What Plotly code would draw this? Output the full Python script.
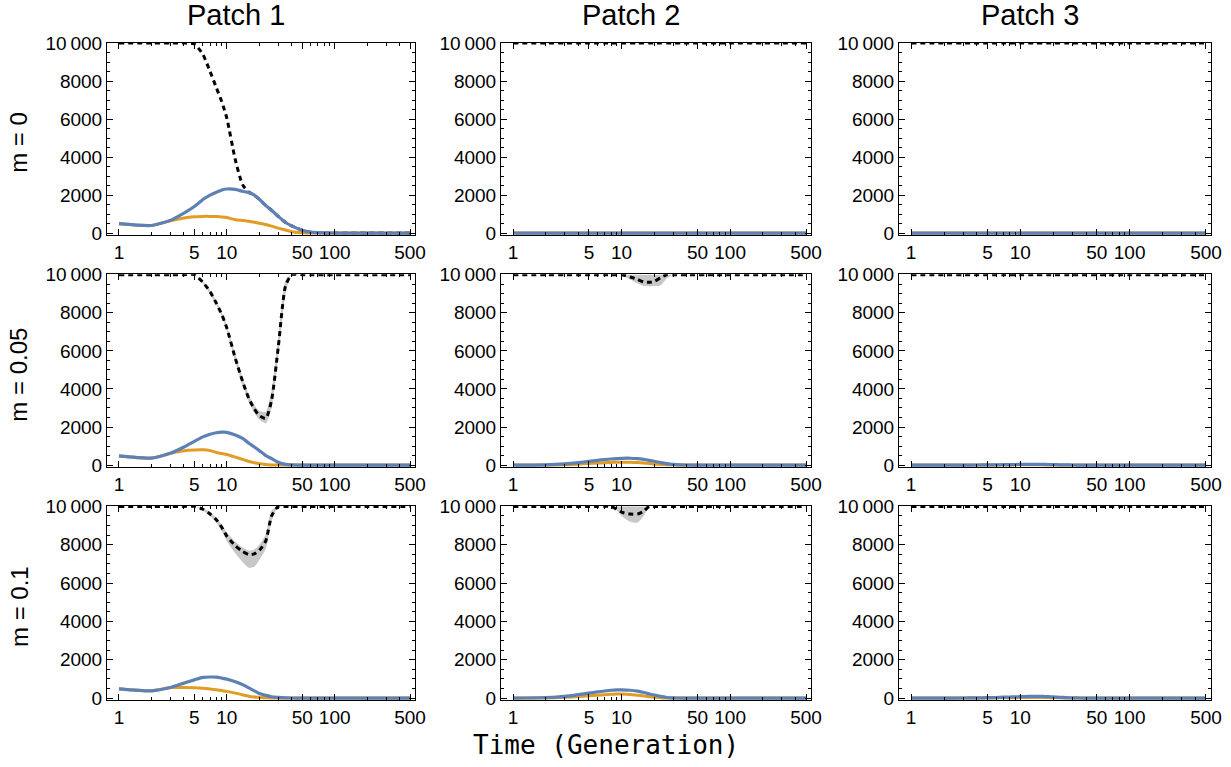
import plotly.graph_objects as go
from plotly.subplots import make_subplots

# generations
T = [1, 2, 3, 4, 5, 6, 7, 8, 9, 10, 12, 14, 16, 18, 20, 23, 26, 30, 35, 40, 50, 60, 80, 100, 200, 300, 500]

# ---- patch 1 ----
blue_m0_p1 = [495, 400, 670, 1050, 1400, 1770, 2000, 2150, 2270, 2320, 2300, 2200, 2130, 2000, 1780, 1450, 1200, 880, 560, 380, 150, 50, 10, 0, 0, 0, 0]
orange_m0_p1 = [495, 400, 650, 800, 860, 880, 880, 870, 850, 820, 700, 660, 620, 570, 520, 450, 370, 260, 160, 70, 15, 0, 0, 0, 0, 0, 0]
black_m0_p1 = [10000, 10000, 10000, 10000, 9950, 9400, 8500, 7650, 6900, 6050, 3850, 2550, 2150, 2000, 1780, 1450, 1200, 880, 560, 380, 150, 50, 10, 0, 0, 0, 0]

blue_m005_p1 = [480, 370, 620, 950, 1250, 1480, 1620, 1700, 1730, 1720, 1580, 1400, 1150, 950, 760, 500, 340, 150, 40, 10, 0, 0, 0, 0, 0, 0, 0]
orange_m005_p1 = [480, 370, 620, 750, 790, 800, 760, 660, 610, 560, 420, 300, 190, 120, 70, 30, 10, 0, 0, 0, 0, 0, 0, 0, 0, 0, 0]
black_m005_p1 = [10000, 10000, 10000, 10000, 10000, 9600, 9100, 8500, 7900, 7200, 5600, 4400, 3500, 2950, 2600, 2450, 3400, 6200, 9400, 10000, 10000, 10000, 10000, 10000, 10000, 10000, 10000]
band_lo_m005_p1 = [10000, 10000, 10000, 10000, 10000, 9550, 9000, 8400, 7800, 7050, 5400, 4200, 3300, 2750, 2400, 2200, 3000, 5700, 9000, 10000, 10000, 10000, 10000, 10000, 10000, 10000, 10000]
band_hi_m005_p1 = [10000, 10000, 10000, 10000, 10000, 9650, 9200, 8600, 8000, 7350, 5800, 4600, 3700, 3150, 2850, 2800, 3900, 6700, 9700, 10000, 10000, 10000, 10000, 10000, 10000, 10000, 10000]

blue_m01_p1 = [485, 380, 550, 780, 950, 1080, 1100, 1090, 1040, 990, 850, 700, 530, 380, 240, 140, 70, 40, 15, 5, 0, 0, 0, 0, 0, 0, 0]
orange_m01_p1 = [485, 380, 550, 550, 540, 510, 470, 430, 390, 350, 260, 170, 100, 60, 40, 15, 5, 0, 0, 0, 0, 0, 0, 0, 0, 0, 0]
black_m01_p1 = [10000, 10000, 10000, 10000, 10000, 9850, 9600, 9300, 8900, 8450, 7950, 7650, 7480, 7520, 7700, 8200, 9500, 10000, 10000, 10000, 10000, 10000, 10000, 10000, 10000, 10000, 10000]
band_lo_m01_p1 = [10000, 10000, 10000, 10000, 10000, 9800, 9500, 9150, 8700, 8200, 7550, 7100, 6800, 6850, 7200, 7800, 9200, 10000, 10000, 10000, 10000, 10000, 10000, 10000, 10000, 10000, 10000]
band_hi_m01_p1 = [10000, 10000, 10000, 10000, 10000, 9900, 9700, 9400, 9050, 8650, 8150, 7850, 7700, 7750, 8000, 8550, 9800, 10000, 10000, 10000, 10000, 10000, 10000, 10000, 10000, 10000, 10000]

# ---- patch 2 ----
zeros = [0] * len(T)
full = [10000] * len(T)

blue_m005_p2 = [0, 10, 60, 130, 200, 250, 290, 320, 340, 355, 360, 340, 300, 250, 200, 130, 80, 40, 15, 5, 0, 0, 0, 0, 0, 0, 0]
orange_m005_p2 = [0, 5, 20, 50, 80, 105, 125, 140, 148, 150, 145, 130, 105, 85, 60, 35, 20, 5, 0, 0, 0, 0, 0, 0, 0, 0, 0]
black_m005_p2 = [10000, 10000, 10000, 10000, 10000, 10000, 10000, 10000, 10000, 10000, 9880, 9750, 9620, 9600, 9650, 9850, 10000, 10000, 10000, 10000, 10000, 10000, 10000, 10000, 10000, 10000, 10000]
band_lo_m005_p2 = [10000, 10000, 10000, 10000, 10000, 10000, 10000, 10000, 10000, 10000, 9750, 9550, 9400, 9380, 9400, 9450, 9800, 10000, 10000, 10000, 10000, 10000, 10000, 10000, 10000, 10000, 10000]

blue_m01_p2 = [0, 30, 90, 180, 260, 320, 370, 410, 430, 430, 410, 360, 290, 220, 160, 90, 30, 10, 0, 0, 0, 0, 0, 0, 0, 0, 0]
orange_m01_p2 = [0, 10, 40, 80, 120, 150, 180, 200, 210, 210, 190, 150, 110, 75, 50, 20, 5, 0, 0, 0, 0, 0, 0, 0, 0, 0, 0]
black_m01_p2 = [10000, 10000, 10000, 10000, 10000, 10000, 10000, 10000, 9850, 9700, 9600, 9600, 9750, 10000, 10000, 10000, 10000, 10000, 10000, 10000, 10000, 10000, 10000, 10000, 10000, 10000, 10000]
band_lo_m01_p2 = [10000, 10000, 10000, 10000, 10000, 10000, 10000, 10000, 9800, 9500, 9200, 9150, 9500, 10000, 10000, 10000, 10000, 10000, 10000, 10000, 10000, 10000, 10000, 10000, 10000, 10000, 10000]

# ---- patch 3 ----
blue_m005_p3 = [0, 0, 0, 5, 10, 15, 20, 25, 30, 35, 40, 40, 35, 30, 25, 15, 10, 5, 0, 0, 0, 0, 0, 0, 0, 0, 0]
orange_m005_p3 = [0, 0, 0, 2, 4, 6, 8, 10, 12, 13, 14, 13, 12, 10, 8, 5, 3, 1, 0, 0, 0, 0, 0, 0, 0, 0, 0]
blue_m01_p3 = [0, 0, 5, 10, 20, 30, 45, 55, 65, 75, 85, 90, 85, 75, 60, 40, 25, 10, 5, 0, 0, 0, 0, 0, 0, 0, 0]
orange_m01_p3 = [0, 0, 2, 4, 7, 10, 15, 18, 22, 25, 28, 30, 28, 25, 20, 13, 8, 3, 1, 0, 0, 0, 0, 0, 0, 0, 0]

panels = [
    # (row, col, blue, orange, black, band_lo, band_hi)
    (1, 1, blue_m0_p1, orange_m0_p1, black_m0_p1, None, None),
    (1, 2, zeros, zeros, full, None, None),
    (1, 3, zeros, zeros, full, None, None),
    (2, 1, blue_m005_p1, orange_m005_p1, black_m005_p1, band_lo_m005_p1, band_hi_m005_p1),
    (2, 2, blue_m005_p2, orange_m005_p2, black_m005_p2, band_lo_m005_p2, full),
    (2, 3, blue_m005_p3, orange_m005_p3, full, None, None),
    (3, 1, blue_m01_p1, orange_m01_p1, black_m01_p1, band_lo_m01_p1, band_hi_m01_p1),
    (3, 2, blue_m01_p2, orange_m01_p2, black_m01_p2, band_lo_m01_p2, full),
    (3, 3, blue_m01_p3, orange_m01_p3, full, None, None),
]

BLUE = "#5E81B5"
ORANGE = "#E19C24"
GRAY = "rgba(190,190,190,0.85)"

fig = make_subplots(rows=3, cols=3)

for r, c, b, o, k, lo, hi in panels:
    if lo is not None:
        fig.add_trace(go.Scatter(x=T, y=hi, mode="lines", line=dict(width=0, shape="spline", smoothing=0.6),
                                 hoverinfo="skip", showlegend=False), row=r, col=c)
        fig.add_trace(go.Scatter(x=T, y=lo, mode="lines", line=dict(width=0, shape="spline", smoothing=0.6),
                                 fill="tonexty", fillcolor=GRAY, hoverinfo="skip", showlegend=False), row=r, col=c)
    fig.add_trace(go.Scatter(x=T, y=k, mode="lines",
                             line=dict(color="black", width=3, dash="5px,4px", shape="spline", smoothing=0.6),
                             showlegend=False), row=r, col=c)
    fig.add_trace(go.Scatter(x=T, y=o, mode="lines",
                             line=dict(color=ORANGE, width=3, shape="spline", smoothing=0.6),
                             showlegend=False), row=r, col=c)
    fig.add_trace(go.Scatter(x=T, y=b, mode="lines",
                             line=dict(color=BLUE, width=3.2, shape="spline", smoothing=0.6),
                             showlegend=False), row=r, col=c)

W, H = 1231, 767


def px_x(p):
    return p / W


def px_y(p):
    return 1 - p / H


col_px = [(107, 415), (501, 811), (899, 1211)]
row_px = [(42.7, 235), (274.3, 467), (506, 700)]
col_dom = [(px_x(a), px_x(b)) for a, b in col_px]
row_dom = [(px_y(b), px_y(a)) for a, b in row_px]

font = "Liberation Sans, Arial, sans-serif"
for r in range(1, 4):
    for c in range(1, 4):
        fig.update_xaxes(
            type="log", range=[-0.111, 2.745], domain=col_dom[c - 1], automargin=False,
            tickvals=[1, 5, 10, 50, 100, 500], ticktext=["1", "5", "10", "50", "100", "500"],
            ticks="inside", ticklen=6, tickwidth=1, tickcolor="black",
            minor=dict(ticks="inside", ticklen=3, tickcolor="black",
                       tickvals=[2, 3, 4, 6, 7, 8, 9, 20, 30, 40, 60, 70, 80, 90, 200, 300, 400]),
            showline=True, linecolor="black", linewidth=1, mirror="ticks",
            showgrid=False, zeroline=False, tickfont=dict(family=font, size=19, color="black"),
            row=r, col=c)
        fig.update_yaxes(
            range=[-100, 10020], domain=row_dom[r - 1], automargin=False,
            tickvals=[0, 2000, 4000, 6000, 8000, 10000],
            ticktext=["0", "2000", "4000", "6000", "8000", "10\u2009000"],
            ticks="inside", ticklen=6, tickwidth=1, tickcolor="black",
            minor=dict(ticks="inside", ticklen=3, tickcolor="black", dtick=500),
            showline=True, linecolor="black", linewidth=1, mirror="ticks",
            showgrid=False, zeroline=False, tickfont=dict(family=font, size=19, color="black"),
            row=r, col=c)

annotations = []
for i, name in enumerate(["Patch 1", "Patch 2", "Patch 3"]):
    cx = (col_px[i][0] + col_px[i][1]) / 2 - 25
    annotations.append(dict(text=name, x=px_x(cx), y=px_y(15),
                            xref="paper", yref="paper", showarrow=False,
                            xanchor="center", yanchor="middle",
                            font=dict(family=font, size=29, color="black")))
for i, name in enumerate(["m = 0", "m = 0.05", "m = 0.1"]):
    cy = (row_px[i][0] + row_px[i][1]) / 2 + 4
    annotations.append(dict(text=name, x=px_x(19), y=px_y(cy),
                            xref="paper", yref="paper", showarrow=False, textangle=-90,
                            xanchor="center", yanchor="middle",
                            font=dict(family=font, size=24, color="black")))
annotations.append(dict(text="Time (Generation)", x=px_x(606), y=px_y(745),
                        xref="paper", yref="paper", showarrow=False,
                        xanchor="center", yanchor="middle",
                        font=dict(family="DejaVu Sans Mono, monospace", size=26, color="black")))

fig.update_layout(
    width=W, height=H,
    margin=dict(l=0, r=0, t=0, b=0, autoexpand=False),
    paper_bgcolor="white", plot_bgcolor="white",
    annotations=annotations,
    showlegend=False,
)

fig.write_html("out.html", config={"displayModeBar": False},
               post_script="document.body.style.margin = '0';")
